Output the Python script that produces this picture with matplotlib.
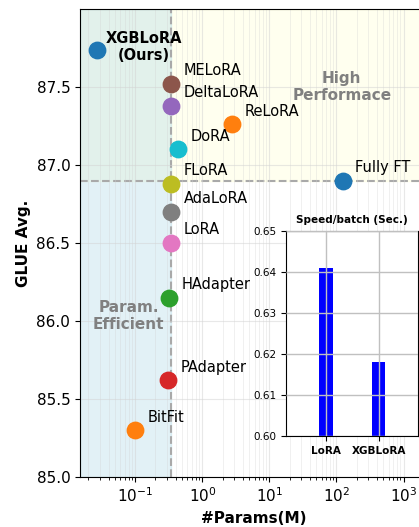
import numpy as np
import matplotlib.pyplot as plt

# data
methods = ['XGBLoRA\n(Ours)', 'MELoRA', 'DeltaLoRA', 'ReLoRA', 'DoRA', 'FLoRA',
           'Fully FT', 'AdaLoRA', 'LoRA', 'HAdapter', 'PAdapter', 'BitFit']
params = [0.027, 0.34, 0.34, 2.8, 0.44, 0.34, 125, 0.34, 0.34, 0.32, 0.31, 0.1]
glue = [87.74, 87.52, 87.38, 87.26, 87.10, 86.88, 86.90, 86.70, 86.50, 86.15, 85.62, 85.30]
colors = ['tab:blue', 'tab:brown', 'tab:purple', 'tab:orange', 'tab:cyan', 'tab:olive',
          'tab:blue', 'tab:gray', 'tab:pink', 'tab:green', 'tab:red', 'tab:orange']

speed_names = ['LoRA', 'XGBLoRA']
speed_vals = [0.641, 0.618]

param_cut = 0.34
perf_cut = 86.9

fig = plt.figure(figsize=(4.19, 5.27), dpi=100)
ax = fig.add_axes([0.191, 0.095, 0.83, 0.888])
ax.set_xscale('log')
ax.set_xlim(0.015, 2300)
ax.set_ylim(85.0, 88.0)

# shaded regions
ax.axhspan(perf_cut, 88.0, color='lightyellow', alpha=0.5, zorder=0)
ax.axvspan(0.015, param_cut, color='lightblue', alpha=0.35, zorder=0)
ax.axvline(param_cut, color='darkgray', ls='--', lw=1.5, zorder=1)
ax.axhline(perf_cut, color='darkgray', ls='--', lw=1.5, zorder=1)

ax.grid(True, which='major', color='lightgray', alpha=0.5, lw=0.8)
ax.grid(True, which='minor', color='lightgray', alpha=0.4, lw=0.6)
ax.set_yticks([85.0, 85.5, 86.0, 86.5, 87.0, 87.5])
ax.tick_params(labelsize=11)

for m, p, g, c in zip(methods, params, glue, colors):
    ax.scatter(p, g, s=140, color=c, zorder=3)
    if m.startswith('XGBLoRA'):
        ax.annotate(m, (p, g), xytext=(6, 2), textcoords='offset points',
                    fontsize=10.5, fontweight='bold', ha='left', va='center',
                    multialignment='center')
    else:
        ax.annotate(m, (p, g), xytext=(9, 4), textcoords='offset points',
                    fontsize=10.5, ha='left', va='bottom')

ax.text(120, 87.5, 'High\nPerformace', fontsize=11, fontweight='bold',
        color='gray', ha='center', va='center')
ax.text(0.079, 86.03, 'Param.\nEfficient', fontsize=11, fontweight='bold',
        color='gray', ha='center', va='center')

ax.set_xlabel('#Params(M)', fontsize=11, fontweight='bold')
ax.set_ylabel('GLUE Avg.', fontsize=11, fontweight='bold')

# inset bar chart
ins = fig.add_axes([0.683, 0.1727, 0.315, 0.389])
ins.bar(np.arange(len(speed_names)), speed_vals, width=0.26, color='blue', zorder=2)
ins.set_xlim(-0.75, 1.75)
ins.set_ylim(0.60, 0.65)
ins.set_xticks(np.arange(len(speed_names)))
ins.set_xticklabels(speed_names, fontweight='bold', fontsize=7.5)
ins.tick_params(axis='y', labelsize=7.5)
ins.grid(True, color='silver', lw=1, zorder=3)
ins.set_axisbelow(False)
ins.set_title('Speed/batch (Sec.)', fontsize=7.5, fontweight='bold')

fig.savefig('out.png', dpi=100)
